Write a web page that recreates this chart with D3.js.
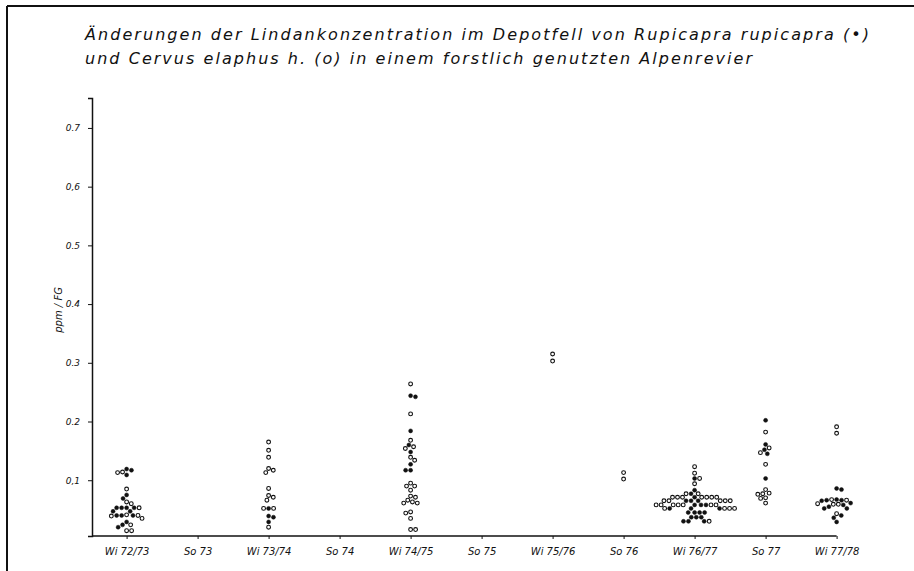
<!DOCTYPE html>
<html>
<head>
<meta charset="utf-8">
<script src="https://cdn.jsdelivr.net/npm/d3@7"></script>
<style>
  body { margin: 0; background: #fff; }
  svg { display: block; }
  text { font-family: "DejaVu Sans", sans-serif; font-style: italic; fill: #111; }
</style>
</head>
<body>
<svg id="chart" width="914" height="571"></svg>
<script>
// Sampling seasons (winter / summer)
const seasons = ["Wi 72/73", "So 73", "Wi 73/74", "So 74", "Wi 74/75", "So 75",
                 "Wi 75/76", "So 76", "Wi 76/77", "So 77", "Wi 77/78"];

// Y axis ticks (ppm in fat tissue)
const yTicks = [0.1, 0.2, 0.3, 0.4, 0.5, 0.6, 0.7];
const yTickLabels = ["0,1", "0.2", "0.3", "0.4", "0.5", "0,6", "0.7"];

// Lindane, Rupicapra rupicapra (filled dots), one list per season
const chamois = [
  [0.119, 0.117, 0.109, 0.075, 0.069, 0.053, 0.053, 0.053, 0.053, 0.047, 0.047, 0.040, 0.040, 0.040, 0.029, 0.024, 0.020],
  [],
  [0.052, 0.039, 0.037, 0.029],
  [],
  [0.244, 0.242, 0.184, 0.160, 0.148, 0.127, 0.117, 0.117],
  [],
  [],
  [],
  [0.103, 0.083, 0.077, 0.071, 0.065, 0.065, 0.065, 0.058, 0.058, 0.058, 0.052, 0.052, 0.052,
   0.045, 0.045, 0.045, 0.045, 0.037, 0.037, 0.037, 0.030, 0.030, 0.030],
  [0.202, 0.161, 0.152, 0.145, 0.103],
  [0.086, 0.084, 0.067, 0.066, 0.066, 0.065, 0.061, 0.058, 0.055, 0.052, 0.052, 0.040, 0.036, 0.029]
];

// Lindane, Cervus elaphus hippelaphus (open circles), one list per season
const redDeer = [
  [0.114, 0.113, 0.085, 0.063, 0.060, 0.053, 0.041, 0.040, 0.039, 0.035, 0.024, 0.014, 0.014],
  [],
  [0.165, 0.151, 0.139, 0.120, 0.117, 0.113, 0.086, 0.074, 0.071, 0.066, 0.052, 0.052, 0.020],
  [],
  [0.264, 0.213, 0.168, 0.157, 0.154, 0.139, 0.134, 0.095, 0.090, 0.090, 0.083, 0.073, 0.071,
   0.066, 0.063, 0.061, 0.061, 0.046, 0.044, 0.035, 0.016, 0.016],
  [],
  [0.315, 0.303],
  [0.113, 0.102],
  [0.123, 0.112, 0.103, 0.094, 0.077, 0.077, 0.071, 0.071, 0.071, 0.071, 0.071, 0.071, 0.071,
   0.065, 0.065, 0.065, 0.065, 0.065, 0.058, 0.058, 0.058, 0.058, 0.058, 0.058, 0.058,
   0.052, 0.052, 0.052, 0.052, 0.030],
  [0.182, 0.155, 0.147, 0.127, 0.084, 0.078, 0.077, 0.076, 0.070, 0.069, 0.061],
  [0.191, 0.180, 0.067, 0.066, 0.060, 0.059, 0.059, 0.043]
];

const titleLines = [
  "Änderungen der Lindankonzentration im Depotfell von Rupicapra rupicapra (•)",
  "und Cervus elaphus h. (o) in einem forstlich genutzten  Alpenrevier"
];
const yTitle = "ppm  / FG";

const svg = d3.select("#chart");
const ink = "#111";

// page frame: top rule and left rule
svg.append("line").attr("x1", 7).attr("x2", 914).attr("y1", 6).attr("y2", 6)
  .attr("stroke", ink).attr("stroke-width", 2);
svg.append("line").attr("x1", 7).attr("x2", 7).attr("y1", 6).attr("y2", 571)
  .attr("stroke", ink).attr("stroke-width", 2);

// title
const titleWidths = [784, 667];
svg.selectAll("text.title").data(titleLines).join("text")
  .attr("class", "title")
  .attr("x", 85)
  .attr("y", (d, i) => 40 + i * 24)
  .attr("font-size", 16)
  .attr("textLength", (d, i) => titleWidths[i])
  .attr("lengthAdjust", "spacing")
  .text(d => d);

// scales
const x = d3.scalePoint().domain(seasons).range([126.6, 836.6]);
const y = d3.scaleLinear().domain([0.005, 0.751]).range([536, 98]);
const x0 = 92;

// y axis
const yAxis = d3.axisLeft(y).tickValues(yTicks)
  .tickFormat((d, i) => yTickLabels[i]).tickSize(4).tickPadding(8);
const gy = svg.append("g").attr("transform", `translate(${x0},0)`).call(yAxis);
gy.select(".domain").attr("stroke", ink).attr("stroke-width", 1.5);
gy.selectAll(".tick line").attr("stroke", ink).attr("stroke-width", 1);
gy.selectAll(".tick text").attr("font-size", 9).attr("font-family", "DejaVu Sans")
  .attr("font-style", "italic").attr("fill", ink);

// y axis title
svg.append("text")
  .attr("transform", `translate(62,${y(0.39)}) rotate(-90)`)
  .attr("text-anchor", "middle")
  .attr("font-size", 10)
  .text(yTitle);

// x axis
const xAxis = d3.axisBottom(x).tickSize(3).tickPadding(9).tickSizeOuter(0);
const gx = svg.append("g").attr("transform", `translate(0,${y.range()[0]})`).call(xAxis);
gx.select(".domain").attr("d", `M${x0},0H${x.range()[1]}`)
  .attr("stroke", ink).attr("stroke-width", 1.6);
gx.selectAll(".tick line").attr("stroke", ink).attr("stroke-width", 1);
gx.selectAll(".tick text").attr("font-size", 10).attr("font-family", "DejaVu Sans")
  .attr("font-style", "italic").attr("fill", ink);

// beeswarm placement: each point takes the free horizontal offset closest to its season line
const minDist = 5.0;
function dodge(points) {
  const placed = [];
  points.sort((a, b) => a.py - b.py);
  let flip = 1;
  for (const p of points) {
    const blocked = [];
    for (const q of placed) {
      const dy = Math.abs(q.py - p.py);
      if (dy < minDist) {
        const w = Math.sqrt(minDist * minDist - dy * dy);
        blocked.push([q.dx - w, q.dx + w]);
      }
    }
    const cands = [0];
    blocked.forEach(([a, b]) => { cands.push(a, b); });
    const free = cands.filter(c => blocked.every(([a, b]) => c <= a + 1e-6 || c >= b - 1e-6));
    free.sort((a, b) => Math.abs(a) - Math.abs(b) || (b - a) * flip);
    p.dx = free[0];
    if (p.dx !== 0) flip = -flip;
    placed.push(p);
  }
  return placed;
}

const marks = [];
seasons.forEach((s, i) => {
  const pts = [];
  chamois[i].forEach(v => pts.push({ season: s, value: v, species: "chamois", py: y(v) }));
  redDeer[i].forEach(v => pts.push({ season: s, value: v, species: "deer", py: y(v) }));
  dodge(pts).forEach(p => marks.push(p));
});

svg.append("g").selectAll("circle").data(marks).join("circle")
  .attr("cx", d => x(d.season) + d.dx)
  .attr("cy", d => y(d.value))
  .attr("r", d => d.species === "chamois" ? 2.0 : 1.9)
  .attr("fill", d => d.species === "chamois" ? ink : "#fff")
  .attr("stroke", ink)
  .attr("stroke-width", d => d.species === "chamois" ? 0.5 : 1.1);
</script>
</body>
</html>
